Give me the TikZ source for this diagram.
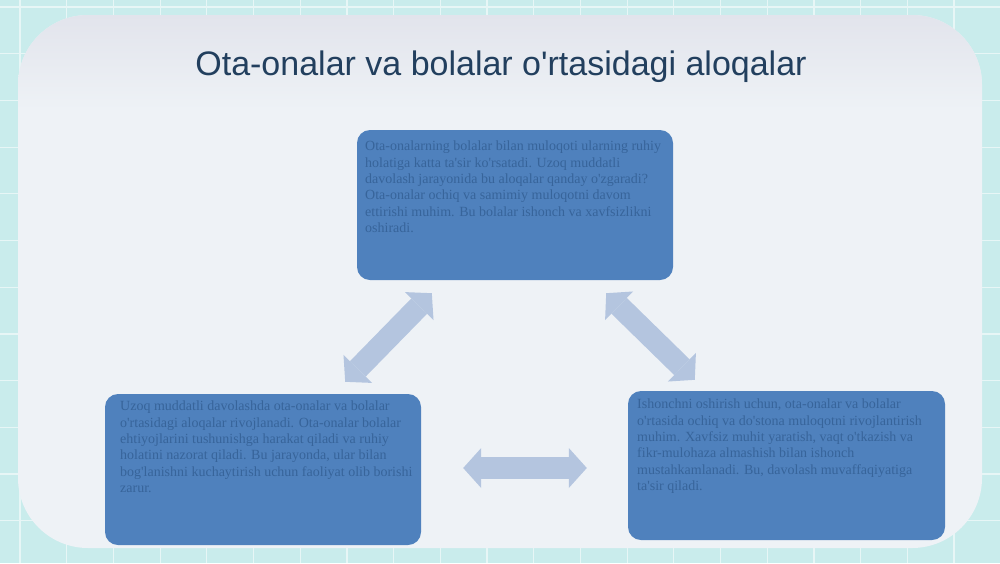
\documentclass[tikz,border=0pt]{standalone}
\usepackage{fontspec}
\setmainfont{Liberation Serif}
\newfontfamily\bodyfont{Liberation Serif}
\newfontfamily\titlefont{Liberation Sans}
\usetikzlibrary{calc,arrows.meta}

\definecolor{tilecyan}{HTML}{C9ECEC}
\definecolor{panelgray}{HTML}{EEF2F6}
\definecolor{panelshade}{HTML}{E2E4EC}
\definecolor{boxblue}{HTML}{4F81BD}
\definecolor{boxtext}{HTML}{37649A}
\definecolor{arrowblue}{HTML}{B4C5DF}
\definecolor{titleblue}{HTML}{223F5E}

\begin{document}
\begin{tikzpicture}[x=1pt,y=-1pt]
    % `box' is used for the three blue text panels.
    % `boxtxt' holds the text that sits in the upper part of a box.
    % `link' is used for the wide double arrows between the boxes.
    \tikzstyle{box} = [fill=boxblue,rounded corners=13pt,inner sep=0pt]
    \tikzstyle{boxtxt} = [anchor=north west,inner sep=0pt,text=boxtext,
      align=left,font=\bodyfont\fontsize{14}{16.3}\selectfont]
    \tikzstyle{link} = [draw=arrowblue,line width=22pt,
      {Triangle[length=18pt,width=40pt,line width=0pt]}-{Triangle[length=18pt,width=40pt,line width=0pt]}]
    \tikzstyle{tileline} = [draw=white!55!tilecyan,line width=1.2pt]
    %
    \useasboundingbox (0,0) rectangle (1000,563);
    % Background tiles.
    \fill[tilecyan] (0,0) rectangle (1000,563);
    \foreach \i in {0,...,22} {
      \draw[tileline] ({20+46.7*(\i-1)},0) -- ++(0,563);
      \draw[tileline] (0,{7+46.7*(\i-1)}) -- ++(1000,0);
    }
    % White panel, darker along its top edge.
    \fill[panelgray,rounded corners=70pt] (18,15) rectangle (982,548);
    \begin{scope}
      \clip[rounded corners=70pt] (18,15) rectangle (982,548);
      \shade[top color=panelshade,bottom color=panelgray] (18,15) rectangle (982,110);
    \end{scope}
    \node[font=\titlefont\fontsize{34}{38}\selectfont,text=titleblue] (title) at (501,67)
      {Ota-onalar va bolalar o'rtasidagi aloqalar};
    %
    % Boxes.
    \node[box,minimum width=316pt,minimum height=150pt] (top) at (515,205) {};
    \node[box,minimum width=316pt,minimum height=151pt] (left) at (263,469.5) {};
    \node[box,minimum width=317pt,minimum height=149pt] (right) at (786.5,465.5) {};
    %
    \node[boxtxt] (topText) at (365,141) {Ota-onalarning bolalar bilan muloqoti ularning ruhiy\\
      holatiga katta ta'sir ko'rsatadi. Uzoq muddatli\\
      davolash jarayonida bu aloqalar qanday o'zgaradi?\\
      Ota-onalar ochiq va samimiy muloqotni davom\\
      ettirishi muhim. Bu bolalar ishonch va xavfsizlikni\\
      oshiradi.};
    \node[boxtxt] (leftText) at (120,401) {Uzoq muddatli davolashda ota-onalar va bolalar\\
      o'rtasidagi aloqalar rivojlanadi. Ota-onalar bolalar\\
      ehtiyojlarini tushunishga harakat qiladi va ruhiy\\
      holatini nazorat qiladi. Bu jarayonda, ular bilan\\
      bog'lanishni kuchaytirish uchun faoliyat olib borishi\\
      zarur.};
    \node[boxtxt] (rightText) at (637,399) {Ishonchni oshirish uchun, ota-onalar va bolalar\\
      o'rtasida ochiq va do'stona muloqotni rivojlantirish\\
      muhim. Xavfsiz muhit yaratish, vaqt o'tkazish va\\
      fikr-mulohaza almashish bilan ishonch\\
      mustahkamlanadi. Bu, davolash muvaffaqiyatiga\\
      ta'sir qiladi.};
    %
    % Arrows.
    \draw[link] ($(top.south west)+(75,13)$) -- ($(left.north east)+(-76,-12)$);
    \draw[link] ($(top.south east)+(-67,13)$) -- ($(right.north west)+(67,-11)$);
    \draw[link] ($(left.east)+(42,-1.5)$) -- ($(right.west)+(-41,2.5)$);
\end{tikzpicture}
\end{document}
